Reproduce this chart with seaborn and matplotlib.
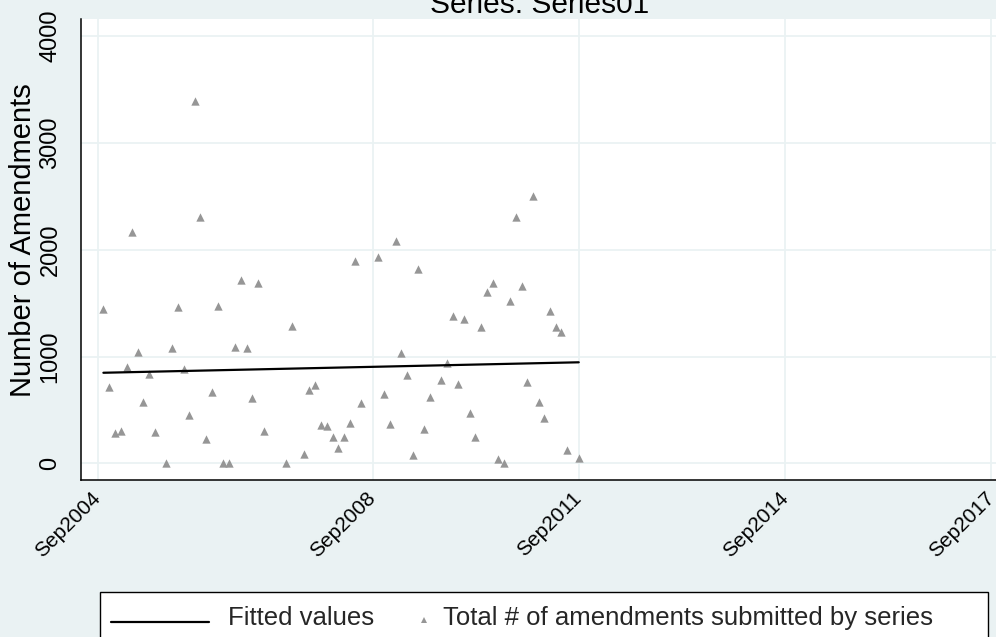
import numpy as np
import pandas as pd
import matplotlib
matplotlib.use("Agg")
import matplotlib.pyplot as plt
import matplotlib.dates as mdates
import matplotlib.transforms as mtransforms
from matplotlib.lines import Line2D
from matplotlib.patches import Rectangle
from matplotlib.legend_handler import HandlerBase
from matplotlib import font_manager
import seaborn as sns

# ---------------- data ----------------
months = [
    "2004-10", "2004-11", "2004-12", "2005-01", "2005-02", "2005-03", "2005-04",
    "2005-05", "2005-06", "2005-07", "2005-09", "2005-10", "2005-11", "2005-12",
    "2006-01", "2006-02", "2006-03", "2006-04", "2006-05", "2006-06", "2006-07",
    "2006-08", "2006-09", "2006-10", "2006-11", "2006-12", "2007-01", "2007-02",
    "2007-06", "2007-07", "2007-09", "2007-10", "2007-11", "2007-12", "2008-01",
    "2008-02", "2008-03", "2008-04", "2008-05", "2008-06", "2008-07", "2008-10",
    "2008-11", "2008-12", "2009-01", "2009-02", "2009-03", "2009-04", "2009-05",
    "2009-06", "2009-07", "2009-09", "2009-10", "2009-11", "2009-12", "2010-01",
    "2010-02", "2010-03", "2010-04", "2010-05", "2010-06", "2010-07", "2010-08",
    "2010-09", "2010-10", "2010-11", "2010-12", "2011-01", "2011-02", "2011-03",
    "2011-04", "2011-05", "2011-06", "2011-07", "2011-09",
]
amendments = [
    1442, 717, 281, 302, 905, 2166, 1045,
    574, 839, 296, 0, 1077, 1461, 883,
    455, 3392, 2306, 225, 665, 1476, 0,
    0, 1092, 1716, 1077, 611, 1691, 302,
    0, 1283, 87, 689, 730, 362, 346,
    246, 143, 246, 377, 1894, 567, 1935,
    652, 371, 2081, 1030, 827, 81, 1816,
    321, 624, 780, 936, 1379, 745, 1354,
    468, 246, 1276, 1604, 1691, 37, 0,
    1523, 2306, 1657, 764, 2503, 571, 421,
    1429, 1279, 1229, 127, 52,
]
fit_months = ["2004-10", "2011-09"]
fit_values = [848, 946]

tick_months = ["2004-09", "2008-09", "2011-09", "2014-09", "2017-09"]
y_ticks = [0, 1000, 2000, 3000, 4000]

title_text = "Series: Series01"
y_label = "Number of Amendments"
legend_labels = ["Fitted values", "Total # of amendments submitted by series"]

# ---------------- style ----------------
sns.set_style("white")
plt.rcParams['font.family'] = ['Liberation Sans', 'DejaVu Sans']

BG = "#EAF2F3"
GRID = "#EAF2F3"
MARK = "#969696"

W, H = 996, 637
fig = plt.figure(figsize=(W / 100, H / 100), dpi=100)
fig.patch.set_facecolor(BG)

# plot region (pixels): left 81, top 19, bottom 480, right beyond the canvas
ax = fig.add_axes([81 / W, 1 - 480 / H, (1008 - 81) / W, (480 - 19) / H])
ax.set_facecolor("white")

df = pd.DataFrame({"month": pd.to_datetime(months), "amendments": amendments})
fit_df = pd.DataFrame({"month": pd.to_datetime(fit_months), "fitted": fit_values})

sns.scatterplot(data=df, x="month", y="amendments", marker="^", s=36,
                color=MARK, linewidth=0, ax=ax, zorder=3, legend=False)
sns.lineplot(data=fit_df, x="month", y="fitted", color="black", lw=1.6,
             ax=ax, zorder=4, legend=False)

ax.set_xlim(pd.Timestamp("2004-06-04"), pd.Timestamp("2017-11-29"))
ax.set_ylim(-156, 4160)

ax.set_xticks(pd.to_datetime(tick_months))
ax.xaxis.set_major_formatter(mdates.DateFormatter("%b%Y"))
ax.set_yticks(y_ticks)
ax.set_yticklabels([str(v) for v in y_ticks])

ax.grid(True, color=GRID, lw=1.3)
ax.set_axisbelow(True)
for s in ["top", "right"]:
    ax.spines[s].set_visible(False)
for s in ["left", "bottom"]:
    ax.spines[s].set_color("black")
    ax.spines[s].set_linewidth(1.1)

ax.tick_params(axis="both", direction="out", length=8, width=1.0,
               color="black", labelcolor="black")
ax.tick_params(axis="y", pad=6, labelsize=17)
ax.tick_params(axis="x", pad=6, labelsize=15)

for lab in ax.get_yticklabels():
    lab.set_rotation(90)
    lab.set_va("center")
    lab.set_ha("right")

offset = mtransforms.ScaledTranslation(4 / 100, 0, fig.dpi_scale_trans)
for lab in ax.get_xticklabels():
    lab.set_rotation(45)
    lab.set_ha("right")
    lab.set_va("baseline")
    lab.set_rotation_mode("anchor")
    lab.set_transform(lab.get_transform() + offset)

ax.set_xlabel("")
ax.set_ylabel(y_label, fontsize=21, color="black")
ax.yaxis.set_label_coords((37 - 81) / 927, (480 - 240) / 461)

fig.text(539.5 / W, 1 - 13 / H, title_text, ha="center", va="baseline",
         fontsize=21.5, color="black")

# ---------------- legend ----------------
names = {f.name for f in font_manager.fontManager.ttflist}
if "Liberation Sans Narrow" in names:
    leg_family, leg_size = "Liberation Sans Narrow", 23
else:
    leg_family, leg_size = "Liberation Sans", 18.5
fs_px = leg_size * 100 / 72


class LineKey(HandlerBase):
    def create_artists(self, legend, orig_handle, xdescent, ydescent,
                       width, height, fontsize, trans):
        x1 = -xdescent + width
        x0 = x1 - 98 * 72 / 100
        y = -ydescent + 0.1 * fontsize
        ln = Line2D([x0, x1], [y, y], color="black", lw=1.6)
        ln.set_transform(trans)
        return [ln]


class MarkerKey(HandlerBase):
    def create_artists(self, legend, orig_handle, xdescent, ydescent,
                       width, height, fontsize, trans):
        x1 = -xdescent + width
        y = -ydescent + 0.2 * fontsize
        mk = Line2D([x1], [y], marker="^", ms=3.8, color=MARK, ls="none",
                    markeredgewidth=0)
        mk.set_transform(trans)
        return [mk]


h_line = Line2D([], [], color="black")
h_mark = Line2D([], [], marker="^", color=MARK, ls="none")

frame = Rectangle((100 / W, -0.05), 888 / W, (1 - 592 / H) + 0.05,
                  transform=fig.transFigure, facecolor="white",
                  edgecolor="black", lw=1.0, zorder=1)
fig.add_artist(frame)

leg = fig.legend([h_line, h_mark], legend_labels, ncol=2,
                 loc="center left", bbox_to_anchor=(199 / W, 1 - 618 / H),
                 frameon=False, borderpad=0, borderaxespad=0,
                 handlelength=10 / fs_px, handletextpad=19 / fs_px,
                 columnspacing=40 / fs_px, handleheight=0.7,
                 prop={"family": leg_family, "size": leg_size},
                 handler_map={h_line: LineKey(), h_mark: MarkerKey()})
leg.set_zorder(5)

fig.savefig("out.png", dpi=100, facecolor=fig.get_facecolor())
